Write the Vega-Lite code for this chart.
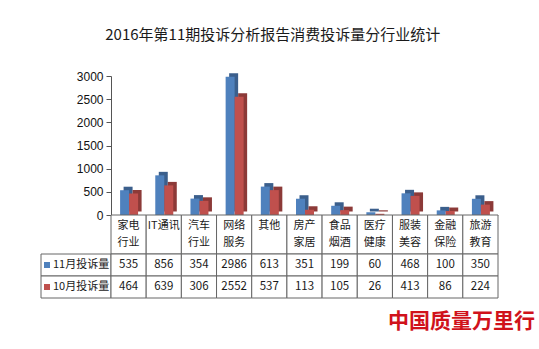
{
  "$schema": "https://vega.github.io/schema/vega-lite/v6.json",
  "padding": {"left": 40, "top": 28, "right": 0, "bottom": 0},
  "title": {"text": "2016年第11期投诉分析报告消费投诉量分行业统计", "font": "Noto Sans CJK SC", "fontSize": 15, "fontWeight": "normal", "color": "#1a1a1a", "offset": 27, "anchor": "middle", "dx": -15},
  "config": {"view": {"stroke": null}, "font": "Noto Sans CJK SC", "text": {"font": "Noto Sans CJK SC", "fontSize": 11, "color": "#1a1a1a"}},
  "datasets": {
    "d": [
      {"cat": "家电行业", "a": "家电", "b": "行业", "v11": 535, "v10": 464},
      {"cat": "IT通讯", "a": "IT通讯", "b": "", "v11": 856, "v10": 639},
      {"cat": "汽车行业", "a": "汽车", "b": "行业", "v11": 354, "v10": 306},
      {"cat": "网络服务", "a": "网络", "b": "服务", "v11": 2986, "v10": 2552},
      {"cat": "其他", "a": "其他", "b": "", "v11": 613, "v10": 537},
      {"cat": "房产家居", "a": "房产", "b": "家居", "v11": 351, "v10": 113},
      {"cat": "食品烟酒", "a": "食品", "b": "烟酒", "v11": 199, "v10": 105},
      {"cat": "医疗健康", "a": "医疗", "b": "健康", "v11": 60, "v10": 26},
      {"cat": "服装美容", "a": "服装", "b": "美容", "v11": 468, "v10": 413},
      {"cat": "金融保险", "a": "金融", "b": "保险", "v11": 100, "v10": 86},
      {"cat": "旅游教育", "a": "旅游", "b": "教育", "v11": 350, "v10": 224}
    ],
    "rows": [
      {"s": "v11", "label": "11月投诉量"},
      {"s": "v10", "label": "10月投诉量"}
    ]
  },
  "columns": 2,
  "spacing": 0,
  "bounds": "flush",
  "concat": [
    {"width": 70, "height": 139, "data": {"values": [{}]}, "mark": {"type": "rect", "opacity": 0}},
    {
      "width": 387, "height": 139,
      "data": {"name": "d"},
      "encoding": {
        "x": {"field": "cat", "type": "nominal", "sort": null, "scale": {"paddingInner": 0, "paddingOuter": 0}, "axis": {"labels": false, "ticks": false, "title": null, "domainColor": "#b0b0b0"}}
      },
      "layer": [
        {"mark": {"type": "bar", "width": 9, "xOffset": -0.5, "yOffset": -3.5, "y2Offset": -3.5, "color": "#3b5f8c"},
         "encoding": {"y": {"field": "v11", "type": "quantitative", "scale": {"domain": [0, 3000], "nice": false}, "axis": {"values": [0, 500, 1000, 1500, 2000, 2500, 3000], "format": "d", "title": null, "grid": false, "labelFont": "Liberation Sans", "labelFontSize": 12, "labelColor": "#111", "tickSize": 5, "tickColor": "#555", "domainColor": "#555", "labelPadding": 3}}}},
        {"mark": {"type": "bar", "width": 9, "xOffset": -4, "color": "#4f81bd"},
         "encoding": {"y": {"field": "v11", "type": "quantitative", "axis": {"values": [0, 500, 1000, 1500, 2000, 2500, 3000], "format": "d", "title": null, "grid": false, "labelFont": "Liberation Sans", "labelFontSize": 12, "labelColor": "#111", "tickSize": 5, "tickColor": "#555", "domainColor": "#555", "labelPadding": 3}}}},
        {"mark": {"type": "bar", "width": 9, "xOffset": 8.5, "yOffset": -3.5, "y2Offset": -3.5, "color": "#8c3a38"},
         "encoding": {"y": {"field": "v10", "type": "quantitative", "axis": {"values": [0, 500, 1000, 1500, 2000, 2500, 3000], "format": "d", "title": null, "grid": false, "labelFont": "Liberation Sans", "labelFontSize": 12, "labelColor": "#111", "tickSize": 5, "tickColor": "#555", "domainColor": "#555", "labelPadding": 3}}}},
        {"mark": {"type": "bar", "width": 9, "xOffset": 5, "color": "#c0504d"},
         "encoding": {"y": {"field": "v10", "type": "quantitative", "axis": {"values": [0, 500, 1000, 1500, 2000, 2500, 3000], "format": "d", "title": null, "grid": false, "labelFont": "Liberation Sans", "labelFontSize": 12, "labelColor": "#111", "tickSize": 5, "tickColor": "#555", "domainColor": "#555", "labelPadding": 3}}}}
      ]
    },
    {"width": 70, "height": 39, "data": {"values": [{}]}, "mark": {"type": "rect", "opacity": 0}},
    {
      "width": 387, "height": 39,
      "data": {"name": "d"},
      "encoding": {
        "x": {"field": "cat", "type": "nominal", "sort": null, "scale": {"paddingInner": 0, "paddingOuter": 0}, "axis": null}
      },
      "layer": [
        {"mark": {"type": "rect", "fill": "white", "stroke": "#666", "strokeWidth": 1}},
        {"mark": {"type": "text", "baseline": "middle"}, "encoding": {"text": {"field": "a"}, "y": {"datum": "a", "scale": {"type": "point", "domain": ["a", "b"], "padding": 0.65}, "axis": null}}},
        {"mark": {"type": "text", "baseline": "middle"}, "encoding": {"text": {"field": "b"}, "y": {"datum": "b"}}}
      ]
    },
    {
      "width": 70, "height": 44,
      "data": {"name": "rows"},
      "encoding": {
        "y": {"field": "s", "type": "nominal", "sort": null, "scale": {"domain": ["v11", "v10"], "paddingInner": 0, "paddingOuter": 0}, "axis": null}
      },
      "layer": [
        {"mark": {"type": "rect", "fill": "white", "stroke": "#666", "strokeWidth": 1}},
        {"mark": {"type": "square", "size": 36, "opacity": 1, "filled": true, "xOffset": -29}, "encoding": {"color": {"field": "s", "type": "nominal", "scale": {"domain": ["v11", "v10"], "range": ["#4f81bd", "#c0504d"]}, "legend": null}}},
        {"mark": {"type": "text", "align": "left", "xOffset": -23}, "encoding": {"text": {"field": "label"}}}
      ]
    },
    {
      "width": 387, "height": 44,
      "data": {"name": "d"},
      "transform": [{"fold": ["v11", "v10"], "as": ["s", "v"]}],
      "encoding": {
        "x": {"field": "cat", "type": "nominal", "sort": null, "scale": {"paddingInner": 0, "paddingOuter": 0}, "axis": null},
        "y": {"field": "s", "type": "nominal", "sort": null, "scale": {"domain": ["v11", "v10"], "paddingInner": 0, "paddingOuter": 0}, "axis": null}
      },
      "layer": [
        {"mark": {"type": "rect", "fill": "white", "stroke": "#666", "strokeWidth": 1}},
        {"mark": {"type": "text", "fontSize": 11.5}, "encoding": {"text": {"field": "v", "type": "quantitative"}}}
      ]
    },
    {"width": 70, "height": 45, "data": {"values": [{}]}, "mark": {"type": "rect", "opacity": 0}},
    {
      "width": 387, "height": 45,
      "data": {"values": [{"logo": "中国质量万里行"}]},
      "mark": {"type": "text", "fontSize": 21, "fontWeight": "bold", "color": "#d0121b", "xOffset": 157, "yOffset": 1},
      "encoding": {"text": {"field": "logo"}}
    }
  ]
}
